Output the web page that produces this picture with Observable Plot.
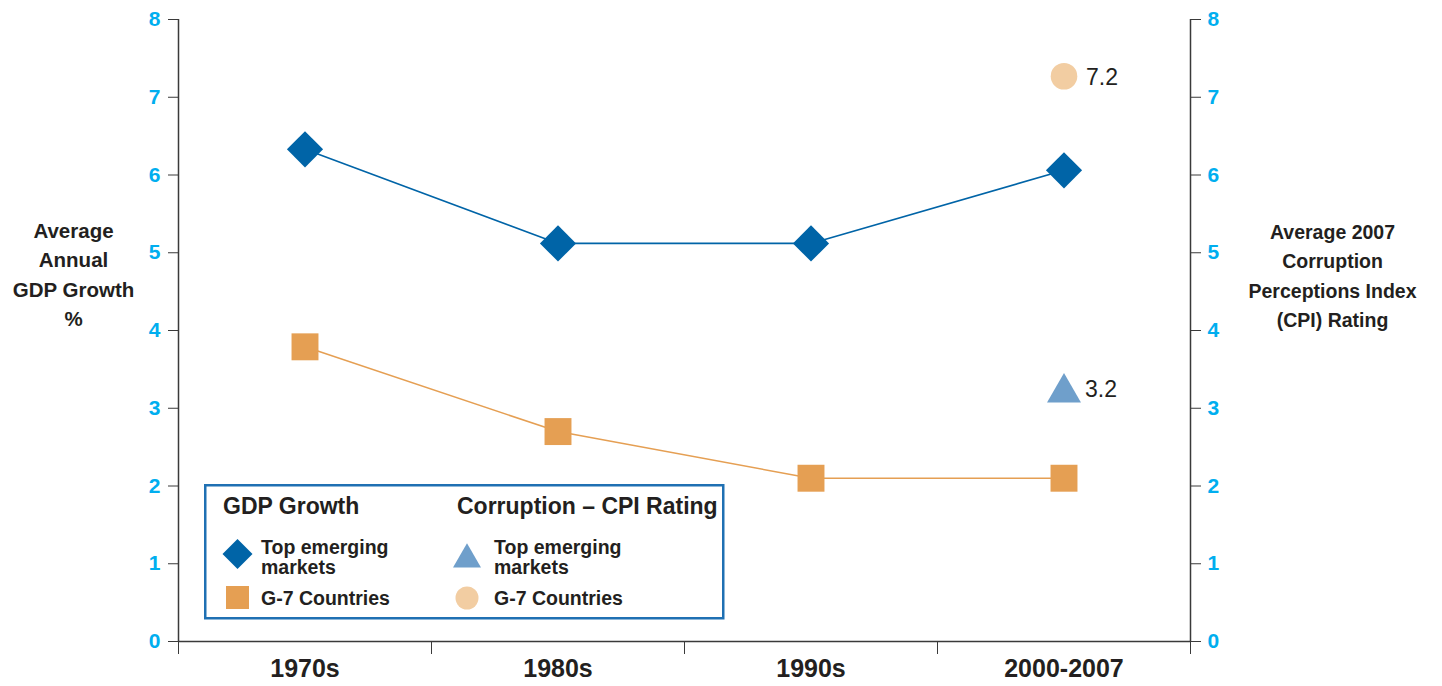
<!DOCTYPE html>
<html><head><meta charset="utf-8">
<script src="https://cdn.jsdelivr.net/npm/d3@7"></script>
<script src="https://cdn.jsdelivr.net/npm/@observablehq/plot@0.6"></script>
<style>
body{margin:0;background:#fff;}
#wrap{position:relative;width:1442px;height:686px;font-family:"Liberation Sans",Arial,Helvetica,sans-serif;}
#legend{position:absolute;left:204px;top:484px;}
</style></head><body><div id="wrap"></div>
<script>
// ---- data ----
const categories = ["1970s", "1980s", "1990s", "2000-2007"];
const gdpEmerging = [6.33, 5.12, 5.12, 6.06];
const gdpG7 = [3.79, 2.70, 2.10, 2.10];
const cpiCategory = "2000-2007";
const cpiEmerging = 3.2;
const cpiG7 = 7.27;
const cpiLabels = ["3.2", "7.2"];
const yTicks = [0, 1, 2, 3, 4, 5, 6, 7, 8];

// ---- colors ----
const blue = "#0064a7", orange = "#e59f53", lightBlue = "#6f9fcb", peach = "#f2cda2";
const cyan = "#00aeef", ink = "#231f20", axisColor = "#3a3a3a";

const idx = c => categories.indexOf(c) + 0.5;
const emData = categories.map((c, i) => ({x: idx(c), v: gdpEmerging[i]}));
const g7Data = categories.map((c, i) => ({x: idx(c), v: gdpG7[i]}));
const cpiTri = [{x: idx(cpiCategory), v: cpiEmerging, label: cpiLabels[0]}];
const cpiCirc = [{x: idx(cpiCategory), v: cpiG7, label: cpiLabels[1]}];

const chart = Plot.plot({
  width: 1442, height: 686,
  marginLeft: 178, marginRight: 252, marginTop: 19, marginBottom: 45,
  style: {fontFamily: '"Liberation Sans", Arial, Helvetica, sans-serif', background: "white", color: ink},
  x: {type: "linear", domain: [0, categories.length], axis: null},
  y: {domain: [0, 8], axis: null},
  marks: [
    Plot.ruleX([0, categories.length], {stroke: axisColor, strokeWidth: 1.5}),
    Plot.ruleY([0], {stroke: axisColor, strokeWidth: 1.5}),
    Plot.axisY({anchor: "left", ticks: yTicks, tickSize: 10, tickPadding: 8, label: null,
      stroke: axisColor, fill: cyan, fontSize: 21, fontWeight: "bold", tickFormat: d => String(d)}),
    Plot.axisY({anchor: "right", ticks: yTicks, tickSize: 10, tickPadding: 7, label: null,
      stroke: axisColor, fill: cyan, fontSize: 21, fontWeight: "bold", tickFormat: d => String(d)}),
    Plot.axisX({anchor: "bottom", ticks: d3.range(categories.length + 1), tickSize: 13, tickFormat: () => "",
      label: null, stroke: axisColor}),
    Plot.axisX({anchor: "bottom", ticks: categories.map(idx), tickSize: 0, tickPadding: 18, label: null,
      tickFormat: d => categories[Math.round(d - 0.5)], fill: ink, fontSize: 25, fontWeight: "bold"}),
    Plot.text(["Average\nAnnual\nGDP Growth\n%"], {frameAnchor: "left", dx: -105, dy: -58,
      textAnchor: "middle", fontSize: 20.5, fontWeight: "bold", lineHeight: 1.44, fill: ink}),
    Plot.text(["Average 2007\nCorruption\nPerceptions Index\n(CPI) Rating"], {frameAnchor: "right", dx: 142, dy: -57,
      textAnchor: "middle", fontSize: 19.5, fontWeight: "bold", lineHeight: 1.52, fill: ink}),
    Plot.line(g7Data, {x: "x", y: "v", stroke: orange, strokeWidth: 1.6}),
    Plot.line(emData, {x: "x", y: "v", stroke: blue, strokeWidth: 1.6}),
    Plot.dot(g7Data, {x: "x", y: "v", symbol: "square", r: 15.2, fill: orange}),
    Plot.dot(emData, {x: "x", y: "v", symbol: "diamond2", r: 16.3, fill: blue}),
    Plot.dot(cpiCirc, {x: "x", y: "v", symbol: "circle", r: 13.3, fill: peach}),
    Plot.dot(cpiTri, {x: "x", y: "v", symbol: "triangle", r: 12.6, fill: lightBlue}),
    Plot.text(cpiCirc, {x: "x", y: "v", text: "label", textAnchor: "start", dx: 22, dy: 1,
      fontSize: 23, fill: ink}),
    Plot.text(cpiTri, {x: "x", y: "v", text: "label", textAnchor: "start", dx: 21, dy: -3,
      fontSize: 23, fill: ink})
  ]
});

// enforce tick label styling
d3.select(chart).selectAll("g").filter(function () {
  const a = this.getAttribute("aria-label") || "";
  return a.startsWith("y-axis") && a.includes("label");
}).attr("font-size", 21).attr("font-weight", "bold").attr("fill", cyan)
  .selectAll("text").attr("font-size", 21).attr("font-weight", "bold").attr("fill", cyan)
  .style("font-size", "21px").style("font-weight", "bold");
d3.select(chart).selectAll("g").filter(function () {
  const a = this.getAttribute("aria-label") || "";
  return a.startsWith("x-axis") && a.includes("label");
}).attr("font-size", 25).attr("font-weight", "bold").attr("fill", ink);

const wrap = document.getElementById("wrap");
wrap.appendChild(chart);

// ---- legend ----
const lg = d3.select(wrap).append("svg").attr("id", "legend")
  .attr("width", 522).attr("height", 137)
  .style("font-family", '"Liberation Sans", Arial, Helvetica, sans-serif');
lg.append("rect").attr("x", 1.25).attr("y", 1.25).attr("width", 518).attr("height", 133)
  .attr("fill", "white").attr("stroke", "#1f70b3").attr("stroke-width", 2.5);
const head = (x, t) => lg.append("text").attr("x", x).attr("y", 29.5).attr("font-size", 23)
  .attr("font-weight", "bold").attr("fill", ink).text(t);
head(19, "GDP Growth");
head(253, "Corruption \u2013 CPI Rating");
const item = (x, y, lines) => {
  const t = lg.append("text").attr("x", x).attr("y", y).attr("font-size", 19.5)
    .attr("font-weight", "bold").attr("fill", ink);
  lines.forEach((l, i) => t.append("tspan").attr("x", x).attr("dy", i ? 19.5 : 0).text(l));
};
lg.append("path").attr("d", d3.symbol(d3.symbolDiamond2, 574)()).attr("transform", "translate(33.5,70)").attr("fill", blue);
lg.append("path").attr("d", d3.symbol(d3.symbolSquare, 529)()).attr("transform", "translate(33.5,113.5)").attr("fill", orange);
lg.append("path").attr("d", d3.symbol(d3.symbolTriangle, 339)()).attr("transform", "translate(263,75.5)").attr("fill", lightBlue);
lg.append("circle").attr("cx", 263).attr("cy", 114).attr("r", 11.5).attr("fill", peach);
item(57, 70, ["Top emerging", "markets"]);
item(57, 121, ["G-7 Countries"]);
item(290, 70, ["Top emerging", "markets"]);
item(290, 121, ["G-7 Countries"]);
</script>
</body></html>
